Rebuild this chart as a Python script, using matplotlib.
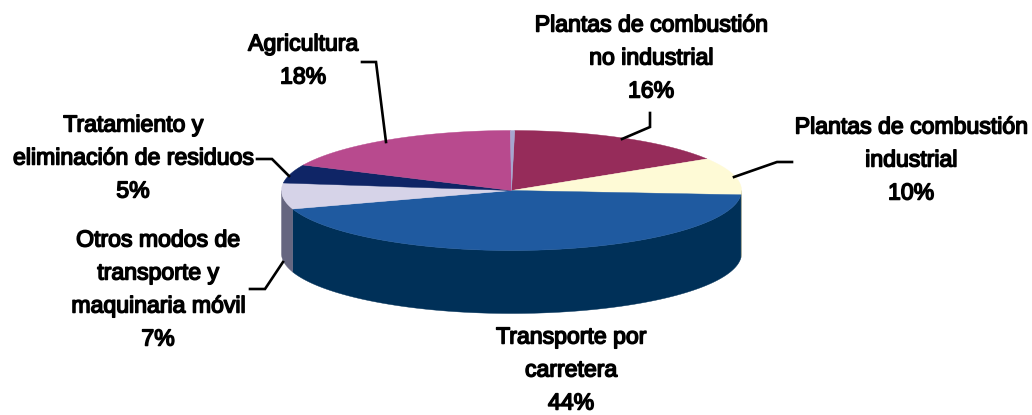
import matplotlib
matplotlib.use("Agg")
import matplotlib.pyplot as plt
import matplotlib.patheffects as pe
import numpy as np

# clockwise from the top of the pie
labels = ["Plantas de combustión\nno industrial", "Plantas de combustión\nindustrial",
          "Transporte por\ncarretera", "Otros modos de\ntransporte y\nmaquinaria móvil",
          "Tratamiento y\neliminación de residuos", "Agricultura", ""]
values = [16, 10, 44, 7, 5, 18, 0.3]
top_colors = ["#962C5A", "#FEFAD6", "#1F5AA0", "#D6D3E8", "#0F2566", "#B84A8E", "#A6A6D0"]
wall_colors = ["#5A1A36", "#A8A88E", "#003058", "#666680", "#091640", "#6E2C55", "#64647D"]

# pixel layout of the figure
cx, cy = 511.5, 190.5
rx, ry = 230, 60
depth = 63
start = 0.8

label_pos = [(651, 25), (911, 127), (571, 337), (158, 240), (133, 125), (303, 44)]
pitch = 33

leaders = [
    ([650, 650, 622], [113, 127, 139]),
    ([792, 777, 734], [162, 162, 177]),
    ([362, 376, 386], [62, 62, 142]),
    ([257, 272, 289], [159, 159, 176]),
    ([250, 265, 283], [289, 289, 262]),
]


def rim(t):
    t = np.radians(t)
    return cx + rx * np.sin(t), cy - ry * np.cos(t)


fig = plt.figure(figsize=(10.32, 4.15), dpi=100)
ax = fig.add_axes([0, 0, 1, 1])
ax.set_xlim(0, 1032)
ax.set_ylim(415, 0)
ax.axis("off")

angles = start + np.concatenate([[0], np.cumsum(values)]) / sum(values) * 360

# side wall first, then the top
for i in range(len(values)):
    lo, hi = max(angles[i], 90), min(angles[i + 1], 270)
    if hi <= lo:
        continue
    x, y = rim(np.linspace(lo, hi, 200))
    ax.fill(np.r_[x, x[::-1]], np.r_[y, y[::-1] + depth],
            color=wall_colors[i], lw=0.3, zorder=1)

for i in range(len(values)):
    x, y = rim(np.linspace(angles[i], angles[i + 1], 200))
    ax.fill(np.r_[cx, x], np.r_[cy, y], color=top_colors[i], lw=0.3, zorder=2)

for x, y in leaders:
    ax.plot(x, y, color="black", lw=1.9, solid_joinstyle="miter", zorder=3)

# regular face with a thin stroke: narrower than the bold face, as in the reference
for i, (px, py) in enumerate(label_pos):
    lines = labels[i].split("\n") + ["%d%%" % values[i]]
    for j, line in enumerate(lines):
        ax.text(px, py + j * pitch, line, ha="center", va="center",
                family="Liberation Sans", fontsize=16.6, color="black",
                path_effects=[pe.withStroke(linewidth=1.1, foreground="black")])

fig.savefig("out.png", dpi=100)
